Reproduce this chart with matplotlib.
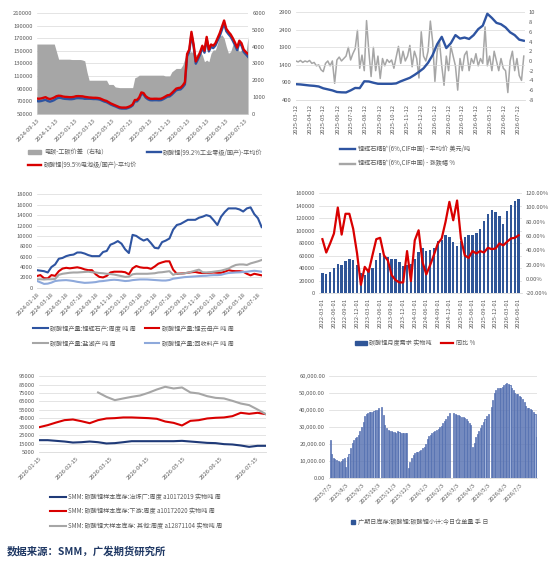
import numpy as np
import pandas as pd
import matplotlib
matplotlib.use("Agg")
import matplotlib.pyplot as plt
from matplotlib.lines import Line2D
from matplotlib.patches import Patch

plt.rcParams['font.family'] = ['Noto Sans CJK SC', 'DejaVu Sans']
plt.rcParams['axes.unicode_minus'] = False

TICK = '#595959'
GRID = '#D9D9D9'
RED = '#D90000'
BLUE = '#2E54A1'
GRAY = '#A6A6A6'
LBLUE = '#8EA9DB'
NAVY = '#1F3A78'
FS = 4.2
LFS = 4.4

# ---- top left: carbonate prices (weekly) and battery-industrial spread
tl_red = [74300, 74000, 74500, 75500, 76500, 74500, 73500, 74500, 76000, 78000,
          78800, 78500, 77500, 77000, 76800, 76500, 76500, 77000, 78000, 78200,
          78000, 77800, 77000, 76500, 76000, 75800, 75500, 75500, 75200, 74500,
          73000, 71500, 70500, 68500, 66500, 65000, 63500, 62000, 60500, 60000,
          60000, 60000, 61000, 62500, 65000, 72000, 72000, 76000, 84000, 83000,
          78000, 75500, 74000, 73800, 74000, 74000, 73800, 74000, 75500, 77500,
          79500, 80000, 83000, 86500, 90000, 91000, 91500, 95000, 100000, 145000,
          152000, 180000, 160000, 133000, 140000, 148000, 158000, 150000, 172000, 152000,
          160000, 158000, 162000, 170000, 178000, 188000, 198000, 185000, 180000, 176000,
          170000, 163000, 155000, 166000, 162000, 152000, 148000, 145000]
tl_blue = [70200, 69900, 70400, 71400, 72400, 70400, 69400, 70400, 71900, 74300,
           75500, 75300, 74300, 73800, 73600, 73300, 73300, 73800, 74800, 75000,
           74800, 74600, 73900, 74000, 74000, 73800, 73500, 73500, 73200, 72500,
           71000, 69500, 68500, 66700, 64700, 63200, 61900, 60400, 58900, 58400,
           58400, 58400, 59400, 60900, 63400, 69800, 69800, 73700, 81700, 80700,
           75700, 73200, 71700, 71500, 71700, 71700, 71500, 71700, 73200, 75200,
           77200, 77700, 80500, 83900, 87300, 88300, 88800, 92100, 96700, 141400,
           148300, 176300, 156400, 129500, 136400, 144300, 154500, 146900, 168800, 148900,
           156400, 154200, 158200, 165800, 173400, 183300, 193500, 181000, 176400, 172300,
           165900, 158800, 151000, 162300, 158200, 148100, 144400, 140400]
tl_spread = [4150, 4150, 4150, 4150, 4150, 4150, 4150, 4150, 4150, 3700,
             3250, 3250, 3250, 3250, 3250, 3250, 3230, 3230, 3230, 3230,
             3230, 3200, 3150, 2500, 2000, 2000, 2000, 2000, 2000, 2000,
             2000, 2000, 2000, 1750, 1750, 1750, 1600, 1580, 1560, 1560,
             1560, 1560, 1560, 1560, 1560, 2150, 2200, 2300, 2300, 2300,
             2300, 2300, 2300, 2300, 2300, 2300, 2300, 2300, 2300, 2250,
             2250, 2250, 2500, 2600, 2700, 2700, 2700, 2900, 3300, 3600,
             3650, 3700, 3600, 3500, 3600, 3700, 3500, 3100, 3200, 3100,
             3600, 3800, 3800, 4200, 4600, 4700, 4500, 4000, 3600, 3700,
             4100, 4200, 4000, 3700, 3800, 3900, 3600, 4600]
tl_dates = pd.date_range('2024-09-13', periods=len(tl_red), freq='7D')

# ---- top right: spodumene price and change %
tr_price = [848, 840, 825, 810, 800, 782, 730, 700, 670, 625,
            615, 612, 670, 740, 735, 930, 925, 890, 860, 858,
            858, 858, 870, 930, 980, 1030, 1110, 1200, 1300, 1460,
            1680, 1990, 2200, 1880, 2020, 2250, 2150, 2180, 2140, 2250,
            2420, 2520, 2860, 2740, 2600, 2560, 2470, 2330, 2250, 2120,
            2089]
tr_chg = [0, -0.2, 0.1, -0.3, 0, -0.2, 0.1, -0.5, -0.3, -1,
          -0.8, -1.8, -2.2, -0.5, 0, -1, 0, -4.6, 0.2, 0.8,
          0, 0.5, 1, 2.8, 0.2, 1.5, 2.5, 6.3, -1.5, 1.2,
          -2, 8.3, 2, -3.2, 2.8, -2, 1, -3.6, 0.5, -1,
          0.3, -0.3, 0.2, -1.5, 0.8, 3, -0.5, 2, 0, 1,
          3.2, -1.2, 2, 0.5, -3.5, 6, 1, 0, 2, 8.2,
          4, -4.2, 2, 4, -1, -5, 1, -2, 3, 1,
          -1, -6, 0.5, -2, 1.2, 2, -2, 0.5, -0.5, 1.5,
          -1, 0.5, -0.5, 7, -1, 1, -2, 2, 0, -2,
          0.5, -1.5, -2, -6.5, 0, 2, -2, 0.5, -3, -4,
          1]
tr_price_dates = pd.date_range('2025-03-12', periods=len(tr_price), freq='10D')
tr_chg_dates = pd.date_range('2025-03-12', periods=len(tr_chg), freq='5D')

# ---- middle left: output by source
ml_spod = [3400, 3300, 3200, 2950, 4000, 4500, 5600, 5750, 6100, 6300,
           6400, 6800, 6800, 6600, 6300, 6100, 6100, 6100, 6900, 7100,
           8300, 8600, 9000, 8500, 7400, 6700, 10200, 10000, 9500, 9100,
           9400, 8600, 7700, 7600, 8800, 9100, 9500, 11200, 12100, 12300,
           12700, 13100, 13100, 13100, 13500, 13700, 14000, 13800, 13000, 12100,
           13700, 14600, 15300, 15300, 15300, 15100, 14700, 15300, 15500, 14200,
           13400, 11700]
ml_lepi = [2250, 2450, 1850, 1800, 2450, 2300, 3200, 3700, 3850, 3750,
           3850, 3950, 3800, 3550, 3400, 3400, 2600, 2100, 2000, 2300,
           2950, 3100, 3100, 3100, 3000, 2600, 3750, 4200, 3950, 3850,
           3850, 3650, 4100, 4650, 4900, 5100, 5100, 3500, 2700, 2750,
           2800, 2900, 3000, 3050, 2900, 2850, 2850, 2900, 2950, 2900,
           2900, 3100, 3400, 3250, 3200, 3200, 3100, 2700, 2400, 2700,
           2550, 2400]
ml_brine = [1650, 1650, 1600, 1650, 1650, 1700, 2500, 2700, 2800, 2900,
            2950, 2950, 3000, 3050, 3100, 3000, 2950, 2850, 2800, 2700,
            2650, 2550, 2400, 2250, 2100, 2150, 2600, 2700, 2700, 2700,
            2700, 2750, 2800, 2950, 3000, 3100, 3200, 2500, 2750, 2700,
            2800, 2900, 3100, 3300, 3500, 3000, 2950, 3000, 3100, 3200,
            3300, 3500, 3700, 4100, 4400, 4500, 4500, 4400, 4700, 4900,
            5100, 5350]
ml_recycle = [1350, 1050, 750, 800, 1000, 1300, 1400, 1450, 1480, 1400,
              1300, 1150, 1050, 950, 980, 1030, 1100, 1250, 1300, 1400,
              1500, 1550, 1500, 1400, 1300, 1350, 1480, 1550, 1610, 1610,
              1600, 1550, 1500, 1450, 1400, 1400, 1500, 1750, 1850, 1950,
              2050, 2100, 2150, 2200, 2250, 2300, 2320, 2400, 2440, 2440,
              2500, 2700, 2850, 2900, 2950, 2980, 3050, 3100, 3200, 3280,
              3200, 3100]
ml_dates = pd.date_range('2024-01-18', '2026-08-01', periods=len(ml_spod))

# ---- middle right: monthly demand and yoy
mr_demand = [32800, 30700, 33400, 39700, 46100, 45600, 52400, 55600, 54000, 45000,
             31800, 29100, 38700, 39700, 54000, 63600, 60400, 57700, 55600, 55600,
             50300, 43400, 45000, 47000, 55600, 66200, 72600, 67300, 69400, 72600,
             84200, 85800, 93800, 89500, 82100, 75800, 83700, 89500, 93800, 93800,
             95900, 103300, 115500, 126600, 133500, 129800, 124000, 110700, 131900, 140400,
             147300, 151000]
mr_yoy = [55.6, 37, 49.6, 63.5, 99.7, 62, 91, 91, 70, 36,
          -8, 17, 10, 33, 55.6, 57.5, 33, 26, 5.5, -1.4,
          -4.7, -4.7, 39, -2.8, 54, 68, 24, 6.5, 19.5, 34,
          49.6, 56.6, 79.8, 107.6, 82, 109.5, 56.6, 33, 29.5, 39,
          35.7, 39, 37, 43.6, 41.7, 42.6, 49.6, 47, 52, 56.6,
          57.5, 61]
mr_months = pd.date_range('2022-03-01', periods=len(mr_demand), freq='MS').strftime('%Y-%m-%d')

# ---- bottom left: sample inventory (weekly)
bl_smelter = [19200, 19200, 18400, 17600, 16400, 16800, 17600, 16800, 15300, 15700,
              16800, 18000, 18000, 18000, 18000, 18000, 18000, 18400, 17600, 16800,
              16000, 15700, 14500, 14100, 12900, 11300, 12500, 12500]
bl_down = [34600, 37000, 40100, 42900, 43700, 41700, 39300, 42900, 44900, 45300,
           46100, 46100, 45700, 45300, 44500, 41300, 39700, 36600, 42100, 42900,
           44900, 45700, 46100, 47600, 51600, 50400, 51600, 50000]
bl_other = [None, None, None, None, None, None, None, 75700, 70500, 66600,
            68600, 70500, 72100, 75300, 79200, 82400, 80400, 81600, 75700, 74500,
            71300, 69300, 68600, 65800, 62600, 60700, 55500, 50000]
bl_dates = pd.date_range('2026-01-15', periods=len(bl_smelter), freq='7D')

# ---- bottom right: warehouse receipts
br_vals = [22500, 14500, 12000, 11200, 10700, 10000, 9800, 10200, 11300, 11700,
           6400, 12700, 14500, 17500, 20500, 22500, 23400, 24000, 25500, 27500,
           30000, 33200, 36500, 37800, 38200, 38600, 39000, 39100, 39400, 39800,
           40000, 41000, None, 42000, 37000, 31500, 29300, 28300, 27900, 27600,
           27300, 27000, 26800, 27500, 27200, 26800, 26800, 26500, 26400, 26500,
           6000, 9500, 12000, 13800, 14800, 15200, 15600, 16000, 16600, 17600,
           18600, 20000, 23000, 24600, 25400, 26400, 27000, 27800, 28300, 28800,
           29800, 30800, 32400, 33800, 35000, 36500, 38100, None, None, 38300,
           37800, 37300, 37000, 36500, 36200, 36000, 35600, 35000, 33800, 32400,
           31000, 18600, 20500, 24000, 25800, 27600, 29500, 31400, 33200, 34600,
           36300, 37500, None, 42000, 46000, 50000, 52000, 52800, 53000, 52800,
           53500, 54500, 55500, 56000, 55500, 54500, 53000, 51500, 50000, 49500,
           49300, 48500, 47800, 46500, 45000, 42500, 41500, 41200, 40500, 40000,
           38800, 38000, 24000]
br_dates = pd.date_range('2025-07-03', periods=len(br_vals), freq='3D')


def excel_axes(ax, grid=True):
    for s in ['top', 'right', 'left']:
        ax.spines[s].set_visible(False)
    ax.spines['bottom'].set_color(GRID)
    ax.spines['bottom'].set_linewidth(0.6)
    ax.tick_params(axis='both', length=0, labelsize=FS, labelcolor=TICK, pad=3)
    if grid:
        ax.yaxis.grid(True, color=GRID, linewidth=0.5)
        ax.set_axisbelow(True)


def bare_twin(ax):
    for s in ax.spines.values():
        s.set_visible(False)
    ax.tick_params(axis='both', length=0, labelsize=FS, labelcolor=TICK, pad=3)


def date_ticks(ax, ticks, fmt, rot):
    ax.set_xticks(ticks)
    if rot == 90:
        ax.set_xticklabels([fmt(d) for d in ticks], rotation=90, ha='center', va='top')
    else:
        ax.set_xticklabels([fmt(d) for d in ticks], rotation=45, ha='right',
                           rotation_mode='anchor')


iso = lambda d: d.strftime('%Y-%m-%d')

fig = plt.figure(figsize=(5.5, 5.61), dpi=100)

# ================= top left
ax1 = fig.add_axes([0.067, 0.797, 0.384, 0.180])
excel_axes(ax1)
ax1.set_ylim(50000, 210000)
ax1.set_yticks(range(50000, 210001, 20000))
ax1b = ax1.twinx()
bare_twin(ax1b)
ax1b.fill_between(tl_dates, tl_spread, color=GRAY, linewidth=0)
ax1b.set_ylim(0, 6000)
ax1b.set_yticks(range(0, 6001, 1000))
ax1c = ax1.twinx()
bare_twin(ax1c)
ax1c.set_ylim(50000, 210000)
ax1c.set_yticks([])
ax1c.plot(tl_dates, tl_blue, color=BLUE, lw=1.7)
ax1c.plot(tl_dates, tl_red, color=RED, lw=1.7)
ax1.set_xlim(tl_dates[0], tl_dates[-1])
date_ticks(ax1, pd.date_range('2024-09-13', '2026-07-13', freq=pd.DateOffset(months=2)), iso, 45)

fig.legend([Patch(color=GRAY), Line2D([], [], color=RED, lw=1.7), Line2D([], [], color=BLUE, lw=1.7)],
           ['电碳-工碳价差（右轴）', '碳酸锂(99.5%电池级/国产)-平均价', '碳酸锂(99.2%工业零级/国产)-平均价'],
           ncol=2, loc='upper left', bbox_to_anchor=(0.051, 0.736), frameon=False,
           fontsize=LFS, labelcolor=TICK, borderpad=0, borderaxespad=0,
           handlelength=2.2, handleheight=0.6, handletextpad=0.4, labelspacing=0.8, columnspacing=1.6)

# ================= top right
ax2 = fig.add_axes([0.538, 0.822, 0.416, 0.156])
excel_axes(ax2)
ax2b = ax2.twinx()
bare_twin(ax2b)
ax2b.plot(tr_chg_dates, tr_chg, color=GRAY, lw=1.1)
ax2b.set_ylim(-8, 10)
ax2b.set_yticks(range(-8, 11, 2))
ax2.set_zorder(ax2b.get_zorder() + 1)
ax2.patch.set_visible(False)
ax2.plot(tr_price_dates, tr_price, color=BLUE, lw=1.7)
ax2.set_ylim(400, 2900)
ax2.set_yticks(range(400, 2901, 500))
ax2.set_xlim(pd.Timestamp('2025-03-12'), pd.Timestamp('2026-07-27'))
date_ticks(ax2, pd.date_range('2025-03-12', '2026-07-12', freq=pd.DateOffset(months=1)), iso, 90)

fig.legend([Line2D([], [], color=BLUE, lw=1.7), Line2D([], [], color=GRAY, lw=1.7)],
           ['锂辉石精矿(6%,CIF中国) - 平均价 美元/吨', '锂辉石精矿(6%,CIF中国) - 涨跌幅 %'],
           loc='upper left', bbox_to_anchor=(0.618, 0.742), frameon=False,
           fontsize=LFS, labelcolor=TICK, borderpad=0, borderaxespad=0,
           handlelength=2.5, handletextpad=0.4, labelspacing=1.2)

# ================= middle left
ax3 = fig.add_axes([0.0667, 0.487, 0.409, 0.1665])
excel_axes(ax3)
ax3.plot(ml_dates, ml_spod, color=BLUE, lw=1.5)
ax3.plot(ml_dates, ml_lepi, color=RED, lw=1.5)
ax3.plot(ml_dates, ml_brine, color=GRAY, lw=1.5)
ax3.plot(ml_dates, ml_recycle, color=LBLUE, lw=1.5)
ax3.set_ylim(0, 18000)
ax3.set_yticks(range(0, 18001, 2000))
ax3.set_xlim(ml_dates[0], ml_dates[-1])
date_ticks(ax3, pd.date_range('2024-01-18', '2026-07-18', freq=pd.DateOffset(months=2)), iso, 45)

fig.legend([Line2D([], [], color=BLUE, lw=1.5), Line2D([], [], color=GRAY, lw=1.5),
            Line2D([], [], color=RED, lw=1.5), Line2D([], [], color=LBLUE, lw=1.5)],
           ['碳酸锂产量:锂辉石产:周度 吨 周', '碳酸锂产量:盐湖产 吨 周',
            '碳酸锂产量:锂云母产 吨 周', '碳酸锂产量:回收料产 吨 周'],
           ncol=2, loc='upper left', bbox_to_anchor=(0.06, 0.422), frameon=False,
           fontsize=LFS, labelcolor=TICK, borderpad=0, borderaxespad=0,
           handlelength=2.4, handletextpad=0.4, labelspacing=1.1, columnspacing=1.4)

# ================= middle right
ax4 = fig.add_axes([0.5806, 0.477, 0.368, 0.179])
excel_axes(ax4)
xb = np.arange(len(mr_demand))
ax4.bar(xb, mr_demand, width=0.62, color='#2F5597')
ax4.set_ylim(0, 160000)
ax4.set_yticks(range(0, 160001, 20000))
ax4b = ax4.twinx()
bare_twin(ax4b)
ax4b.plot(xb, mr_yoy, color=RED, lw=1.6)
ax4b.set_ylim(-20, 120)
ax4b.set_yticks(range(-20, 121, 20))
ax4b.set_yticklabels([f'{v:.2f}%' for v in range(-20, 121, 20)])
ax4.set_xlim(-0.8, len(mr_demand) - 0.2)
ax4.set_xticks(xb[::3])
ax4.set_xticklabels(mr_months[::3], rotation=90, ha='center', va='top')

fig.legend([Patch(color='#2F5597'), Line2D([], [], color=RED, lw=1.6)],
           ['碳酸锂月度需求 实物吨', '同比 %'],
           ncol=2, loc='upper left', bbox_to_anchor=(0.645, 0.395), frameon=False,
           fontsize=LFS, labelcolor=TICK, borderpad=0, borderaxespad=0,
           handlelength=2.0, handleheight=0.6, handletextpad=0.4, columnspacing=1.5)

# ================= bottom left
ax5 = fig.add_axes([0.0715, 0.194, 0.412, 0.1355])
excel_axes(ax5)
ax5.plot(bl_dates, bl_smelter, color=NAVY, lw=1.5)
ax5.plot(bl_dates, bl_down, color=RED, lw=1.5)
ax5.plot(bl_dates, pd.Series(bl_other, dtype=float), color=GRAY, lw=1.5)
ax5.set_ylim(5000, 95000)
ax5.set_yticks(range(5000, 95001, 10000))
ax5.set_xlim(bl_dates[0], bl_dates[-1])
date_ticks(ax5, pd.date_range('2026-01-15', '2026-07-15', freq=pd.DateOffset(months=1)), iso, 45)

fig.legend([Line2D([], [], color=NAVY, lw=1.5), Line2D([], [], color=RED, lw=1.5),
            Line2D([], [], color=GRAY, lw=1.5)],
           ['SMM: 碳酸锂样本库存:冶炼厂:周度 a10172019 实物吨 周',
            'SMM: 碳酸锂样本库存:下游:周度 a10172020 实物吨 周',
            'SMM: 碳酸锂大样本库存: 其他:周度 a12871104 实物吨 周'],
           loc='upper left', bbox_to_anchor=(0.091, 0.121), frameon=False,
           fontsize=LFS, labelcolor=TICK, borderpad=0, borderaxespad=0,
           handlelength=2.6, handletextpad=0.4, labelspacing=1.05)

# ================= bottom right
ax6 = fig.add_axes([0.599, 0.1474, 0.378, 0.1824])
excel_axes(ax6)
br = pd.Series(br_vals, index=br_dates, dtype=float).dropna()
ax6.bar(br.index, br.values, width=2.0, color='#A3B5DC', edgecolor='#3E5CA5', linewidth=0.45)
ax6.set_ylim(0, 60000)
ax6.set_yticks(range(0, 60001, 10000))
ax6.set_yticklabels([f'{v:,.2f}' for v in range(0, 60001, 10000)])
ax6.set_xlim(br_dates[0] - pd.Timedelta(days=1.5), br_dates[-1] + pd.Timedelta(days=1.5))
date_ticks(ax6, pd.date_range('2025-07-03', '2026-07-03', freq=pd.DateOffset(months=1)),
           lambda d: f'{d.year}/{d.month}/{d.day}', 45)

fig.legend([Patch(color='#2F5597')], ['广期日库存:碳酸锂:碳酸锂小计:今日仓单量 手 日'],
           loc='upper left', bbox_to_anchor=(0.638, 0.077), frameon=False,
           fontsize=LFS, labelcolor=TICK, borderpad=0, borderaxespad=0,
           handlelength=0.7, handleheight=0.7, handletextpad=0.4)

fig.text(0.0127, 0.0178, '数据来源：SMM，广发期货研究所', fontsize=7.5, fontweight='bold',
         color='#1F3864', va='center', ha='left')

fig.savefig('out.png', dpi=100)
